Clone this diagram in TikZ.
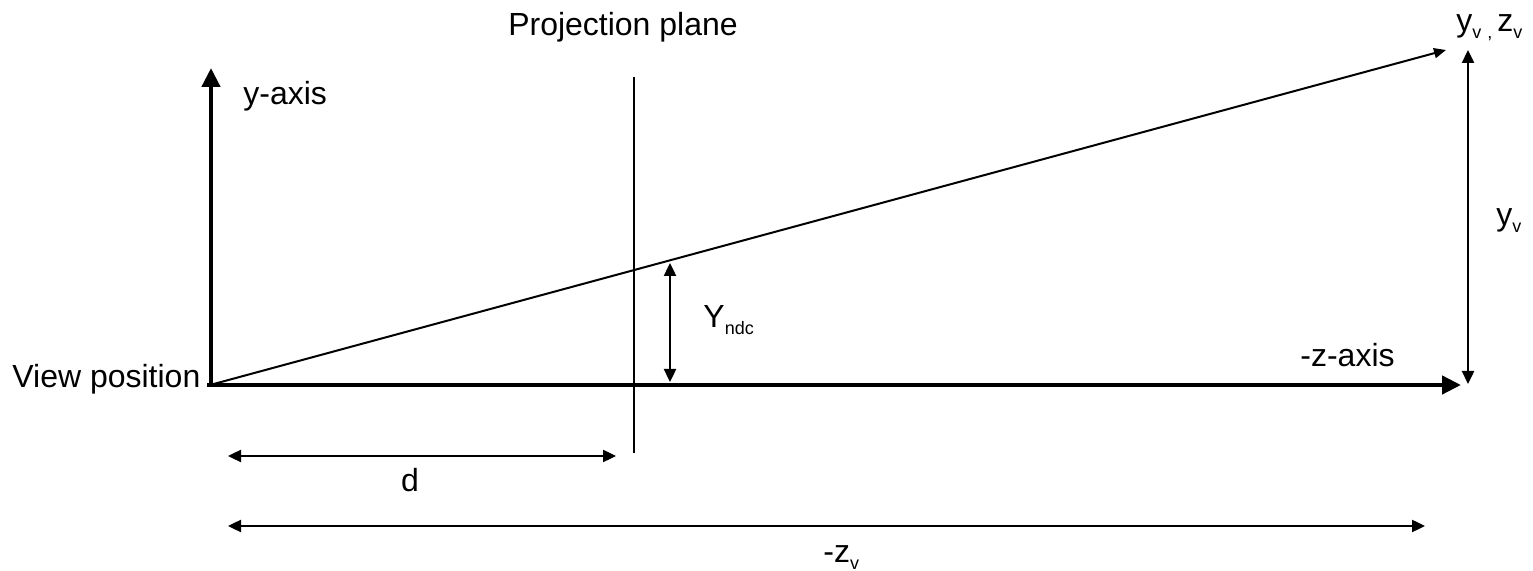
\documentclass[tikz,border=0pt]{standalone}
\usepackage{fontspec}
\setmainfont{Liberation Sans}
\usetikzlibrary{arrows.meta}
\newcommand{\sbs}[1]{\raisebox{-3.5pt}{\fontsize{9}{10}\selectfont #1}}
\begin{document}
\begin{tikzpicture}[x=0.5pt,y=-0.5pt,
  lbl/.style={inner sep=0pt, font=\fontsize{16}{19}\selectfont},
  axisline/.style={line width=2.2pt, -{Triangle[length=9.5pt,width=9pt]}},
  thinarrow/.style={line width=1pt, -{Triangle[length=6pt,width=5pt]}},
  dimarrow/.style={line width=1.2pt, {Triangle[length=6.5pt,width=6pt]}-{Triangle[length=6.5pt,width=6pt]}},
  planeline/.style={line width=0.9pt}]
\useasboundingbox (0,0) rectangle (1533,571);
% coordinates
\coordinate (O) at (210,385);
\coordinate (ytip) at (211,68);
\coordinate (ybase) at (211,387);
\coordinate (zstart) at (207,385);
\coordinate (ztip) at (1461,385);
\coordinate (stip) at (1446,50);
\coordinate (vtop) at (1468,50);
\coordinate (vbot) at (1468,384);
\coordinate (ptop) at (634,77);
\coordinate (pbot) at (634,453);
\coordinate (ntop) at (670,263);
\coordinate (nbot) at (670,382);
\coordinate (dl) at (228,456);
\coordinate (dr) at (616,456);
\coordinate (zl) at (228,526);
\coordinate (zr) at (1425,526);
% lines
\draw[axisline] (ybase) -- (ytip);
\draw[axisline] (zstart) -- (ztip);
\draw[thinarrow] (O) -- (stip);
\draw[planeline] (ptop) -- (pbot);
\draw[dimarrow] (vbot) -- (vtop);
\draw[dimarrow] (nbot) -- (ntop);
\draw[dimarrow] (dl) -- (dr);
\draw[dimarrow] (zl) -- (zr);
% labels
\node[lbl, anchor=base] (pp) at (623,36) {Projection plane};
\node[lbl, anchor=base west] (ya) at (243,105) {y-axis};
\node[lbl, anchor=base west] (vp) at (12,388) {View position};
\node[lbl, anchor=base west] (za) at (1300,367) {-z-axis};
\node[lbl, anchor=base west] (yn) at (703,328) {Y\sbs{ndc}};
\node[lbl, anchor=base] (dd) at (410,492) {d};
\node[lbl, anchor=base west] (zv) at (823,563) {-z\sbs{v}};
\node[lbl, anchor=base west] (yv) at (1496,226) {y\sbs{v}};
\node[lbl, anchor=base west] (yz) at (1456,32) {y\sbs{v\hspace{3pt},}\hspace{2.5pt}z\sbs{v}};
\end{tikzpicture}
\end{document}
